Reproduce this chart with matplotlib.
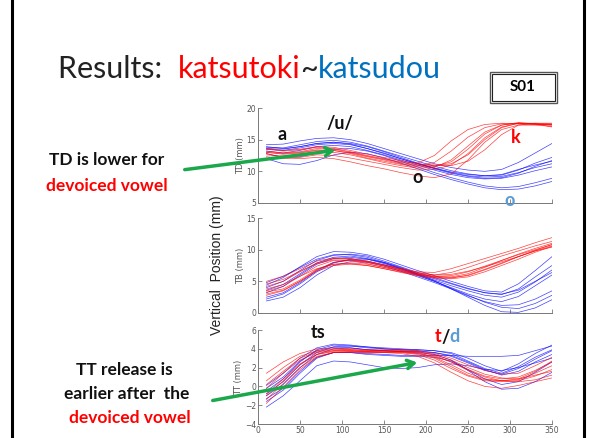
import matplotlib.pyplot as plt
from matplotlib.lines import Line2D
from matplotlib.patches import Rectangle, FancyArrowPatch

W, H = 592, 438

# sample positions (time, frames)
t = [10, 30, 50, 70, 90, 110, 130, 150, 170, 190, 210, 230, 250, 270, 290, 310, 330, 350]

# TD trajectories (mm)
td_red = [
    [13.5, 13.2, 13.4, 13.8, 13.6, 13.1, 12.5, 12.0, 11.5, 11.3, 12.5, 14.8, 16.6, 17.4, 17.6, 17.5, 17.4, 17.3],
    [13.0, 12.7, 12.9, 13.3, 13.3, 12.9, 12.3, 11.8, 11.2, 10.9, 11.4, 13.2, 15.4, 16.9, 17.5, 17.5, 17.4, 17.4],
    [12.6, 12.4, 12.6, 13.0, 13.0, 12.6, 12.0, 11.4, 10.9, 10.5, 10.6, 11.8, 14.0, 16.2, 17.3, 17.6, 17.5, 17.4],
    [13.2, 12.9, 13.1, 13.6, 13.5, 13.0, 12.4, 11.9, 11.4, 11.0, 10.9, 11.2, 12.6, 15.0, 16.9, 17.6, 17.6, 17.5],
    [12.3, 12.0, 12.2, 12.6, 12.5, 12.1, 11.6, 11.1, 10.6, 10.2, 10.3, 11.0, 12.8, 15.3, 17.0, 17.6, 17.5, 17.3],
    [13.6, 13.3, 13.5, 13.9, 13.8, 13.3, 12.7, 12.2, 11.7, 11.2, 11.0, 10.9, 11.6, 13.4, 15.8, 17.3, 17.6, 17.6],
    [12.8, 12.2, 12.0, 12.2, 12.0, 11.5, 10.9, 10.4, 9.8, 9.3, 9.0, 9.6, 11.8, 14.6, 16.6, 17.3, 17.3, 17.1],
    [13.0, 12.8, 13.0, 13.4, 13.3, 12.8, 12.1, 11.6, 11.1, 10.7, 10.8, 11.5, 13.5, 15.9, 17.3, 17.7, 17.5, 17.0],
]
td_blue = [
    [14.2, 14.3, 14.8, 15.2, 15.3, 15.0, 14.4, 13.6, 12.8, 12.0, 11.2, 10.6, 10.2, 10.0, 10.3, 11.4, 12.9, 14.4],
    [13.8, 13.7, 14.2, 14.7, 14.9, 14.6, 14.0, 13.2, 12.4, 11.6, 10.8, 10.1, 9.6, 9.3, 9.4, 10.2, 11.3, 12.2],
    [13.5, 13.3, 13.7, 14.2, 14.4, 14.2, 13.6, 12.9, 12.0, 11.2, 10.4, 9.7, 9.2, 8.9, 9.0, 9.7, 10.8, 11.7],
    [13.9, 13.6, 13.9, 14.4, 14.6, 14.4, 13.9, 13.1, 12.2, 11.3, 10.5, 9.8, 9.3, 9.1, 9.2, 9.8, 10.6, 11.2],
    [13.2, 12.9, 13.3, 13.9, 14.1, 13.9, 13.3, 12.6, 11.8, 11.0, 10.2, 9.5, 9.0, 8.8, 8.9, 9.4, 10.1, 10.7],
    [12.8, 12.2, 12.3, 12.9, 13.5, 13.6, 13.2, 12.5, 11.6, 10.7, 9.8, 9.0, 8.3, 7.7, 7.4, 7.6, 8.2, 8.9],
    [12.0, 11.2, 11.1, 11.7, 12.6, 13.0, 12.8, 12.1, 11.3, 10.4, 9.5, 8.7, 8.0, 7.4, 7.1, 7.2, 7.7, 8.4],
    [13.6, 13.5, 13.9, 14.4, 14.6, 14.3, 13.6, 12.8, 12.0, 11.2, 10.5, 9.9, 9.5, 9.3, 9.5, 10.3, 11.0, 11.6],
]

# TB trajectories (mm)
tb_red = [
    [5.0, 5.8, 7.0, 8.2, 8.7, 8.6, 8.2, 7.6, 7.0, 6.5, 6.4, 7.0, 7.8, 8.6, 9.4, 10.2, 11.1, 11.9],
    [4.2, 5.0, 6.5, 7.9, 8.6, 8.6, 8.1, 7.5, 6.9, 6.3, 6.0, 6.4, 7.2, 8.1, 9.0, 9.8, 10.6, 11.3],
    [3.5, 4.2, 5.8, 7.4, 8.3, 8.4, 8.0, 7.4, 6.8, 6.2, 5.8, 5.9, 6.5, 7.4, 8.3, 9.2, 10.0, 10.8],
    [3.0, 3.6, 5.0, 6.6, 7.5, 7.7, 7.5, 7.0, 6.4, 5.9, 5.5, 5.4, 5.7, 6.5, 7.5, 8.5, 9.6, 10.5],
    [3.8, 4.5, 5.8, 7.0, 7.7, 7.8, 7.5, 7.0, 6.5, 6.0, 5.6, 5.5, 6.0, 6.9, 7.9, 8.9, 9.8, 10.6],
    [2.8, 3.5, 5.0, 6.8, 8.0, 8.3, 8.1, 7.6, 7.0, 6.4, 6.0, 6.1, 6.6, 7.3, 8.1, 8.9, 9.8, 10.4],
    [4.6, 5.3, 6.6, 7.8, 8.4, 8.3, 7.8, 7.2, 6.6, 6.1, 5.8, 5.7, 6.2, 7.2, 8.3, 9.3, 10.2, 11.0],
    [3.3, 3.8, 5.2, 6.9, 7.7, 7.9, 7.7, 7.2, 6.7, 6.1, 5.7, 5.6, 5.9, 6.8, 7.8, 8.9, 9.9, 10.8],
]
tb_blue = [
    [4.4, 5.6, 7.3, 8.9, 9.7, 9.6, 9.2, 8.5, 7.6, 6.7, 5.9, 5.0, 4.2, 3.5, 3.3, 4.6, 6.7, 8.9],
    [4.0, 5.0, 6.7, 8.3, 9.1, 9.3, 9.0, 8.2, 7.3, 6.4, 5.6, 4.7, 3.9, 3.2, 2.9, 3.8, 5.7, 7.5],
    [3.2, 4.2, 6.0, 7.7, 8.6, 8.8, 8.5, 7.8, 7.0, 6.1, 5.2, 4.3, 3.5, 2.8, 2.5, 3.3, 4.9, 6.8],
    [2.5, 3.2, 4.8, 6.7, 8.0, 8.4, 8.2, 7.6, 6.8, 5.9, 5.0, 4.0, 3.0, 2.2, 1.8, 2.6, 4.3, 6.0],
    [1.9, 2.5, 4.0, 6.0, 7.5, 8.1, 8.0, 7.4, 6.6, 5.7, 4.8, 3.8, 2.7, 1.8, 1.2, 1.3, 2.2, 3.5],
    [3.6, 4.5, 6.2, 7.9, 8.8, 9.0, 8.6, 7.9, 7.0, 6.0, 5.0, 3.9, 2.8, 1.7, 0.9, 0.7, 1.5, 2.8],
    [2.2, 3.0, 4.6, 6.5, 7.9, 8.5, 8.5, 8.0, 7.2, 6.2, 5.1, 3.8, 2.5, 1.2, 0.2, 0.1, 0.8, 2.1],
    [4.8, 5.8, 7.2, 8.5, 9.2, 9.2, 8.8, 8.0, 7.1, 6.2, 5.4, 4.6, 3.8, 3.2, 3.0, 3.6, 5.0, 6.4],
]

# TT trajectories (mm)
tt_red = [
    [1.4, 2.6, 3.5, 4.0, 4.1, 4.0, 3.9, 3.9, 3.9, 3.8, 3.5, 3.0, 2.3, 1.7, 1.3, 1.4, 2.2, 3.1],
    [0.6, 2.0, 3.2, 3.8, 4.0, 3.9, 3.8, 3.8, 3.8, 3.7, 3.3, 2.6, 1.8, 1.1, 0.8, 1.0, 1.7, 2.6],
    [-0.2, 1.4, 2.8, 3.6, 3.8, 3.8, 3.7, 3.7, 3.7, 3.6, 3.1, 2.3, 1.4, 0.8, 0.6, 0.7, 1.4, 2.2],
    [-0.8, 0.8, 2.4, 3.4, 3.7, 3.7, 3.6, 3.6, 3.6, 3.4, 2.8, 1.9, 1.1, 0.6, 0.5, 0.6, 1.1, 1.8],
    [-1.4, 0.3, 2.0, 3.2, 3.6, 3.6, 3.6, 3.6, 3.5, 3.2, 2.5, 1.5, 0.6, 0.0, -0.2, 0.1, 0.5, 0.9],
    [0.2, 1.6, 3.0, 3.7, 3.9, 3.9, 3.8, 3.8, 3.8, 3.7, 3.4, 2.8, 2.0, 1.3, 0.9, 0.8, 1.2, 1.6],
    [-1.8, -0.1, 1.8, 3.1, 3.6, 3.7, 3.7, 3.7, 3.7, 3.5, 3.0, 2.1, 1.2, 0.7, 0.6, 0.8, 1.6, 2.7],
    [-1.0, 0.6, 2.3, 3.4, 3.8, 3.8, 3.7, 3.6, 3.6, 3.5, 3.2, 2.6, 1.7, 1.0, 0.6, 0.5, 0.7, 1.2],
]
tt_blue = [
    [0.1, 1.4, 3.0, 4.1, 4.5, 4.4, 4.2, 4.1, 4.0, 3.9, 3.8, 3.6, 3.0, 2.2, 1.6, 2.4, 3.5, 4.4],
    [-0.5, 0.8, 2.6, 3.9, 4.4, 4.3, 4.1, 4.0, 3.9, 3.9, 3.8, 3.5, 2.7, 1.9, 1.4, 2.1, 3.1, 3.9],
    [-1.0, 0.2, 2.0, 3.4, 4.0, 4.1, 3.9, 3.8, 3.7, 3.7, 3.6, 3.3, 2.6, 1.8, 1.2, 1.6, 2.6, 3.4],
    [-1.6, -0.4, 1.4, 3.0, 3.6, 3.6, 3.5, 3.4, 3.3, 3.3, 3.3, 3.3, 3.2, 3.2, 3.2, 3.3, 3.8, 4.3],
    [-2.2, -1.0, 0.6, 2.2, 2.7, 2.6, 2.3, 2.0, 1.9, 2.0, 2.3, 2.4, 2.2, 1.8, 1.7, 2.0, 2.5, 3.0],
    [-0.2, 1.0, 2.7, 3.8, 4.2, 4.1, 3.9, 3.8, 3.7, 3.6, 3.4, 2.8, 1.7, 0.5, -0.3, -0.2, 0.5, 1.5],
    [-1.3, -0.2, 1.6, 3.1, 3.6, 3.6, 3.4, 3.3, 3.2, 3.2, 3.1, 2.7, 1.8, 0.8, 0.2, 0.5, 1.5, 2.6],
    [-0.8, 0.5, 2.3, 3.6, 4.2, 4.3, 4.2, 4.0, 3.9, 3.8, 3.6, 3.2, 2.5, 1.7, 1.3, 1.9, 2.9, 3.8],
]

panels = [
    ("TD (mm)", td_red, td_blue, (5, 20), [5, 10, 15, 20]),
    ("TB (mm)", tb_red, tb_blue, (0, 15), [0, 5, 10, 15]),
    ("TT (mm)", tt_red, tt_blue, (-4, 6), [-4, -2, 0, 2, 4, 6]),
]
# axes boxes in pixels: (left, top, right, bottom)
boxes = [(258, 108, 552, 203), (258, 218, 552, 313), (258, 330, 552, 424)]


def fx(x):
    return x / W


def fy(y):
    return 1 - y / H


fig = plt.figure(figsize=(W / 100, H / 100), dpi=100)
fig.patch.set_facecolor('white')

for (lab, reds, blues, ylim, yt), (l, tp, r, b) in zip(panels, boxes):
    ax = fig.add_axes([fx(l), fy(b), (r - l) / W, (b - tp) / H])
    for c in blues:
        ax.plot(t, c, color='#0000ff', lw=0.5, alpha=0.75)
    for c in reds:
        ax.plot(t, c, color='#ff0000', lw=0.5, alpha=0.75)
    ax.set_xlim(0, 350)
    ax.set_ylim(*ylim)
    ax.set_yticks(yt)
    ax.set_xticks(range(0, 351, 50))
    for s in ['top', 'right']:
        ax.spines[s].set_visible(False)
    for s in ['left', 'bottom']:
        ax.spines[s].set_color('#777777')
        ax.spines[s].set_linewidth(0.7)
    ax.tick_params(direction='in', length=3, width=0.6, colors='#777777',
                   labelsize=5.5, labelcolor='#555555', pad=1.5)
    if lab != "TT (mm)":
        ax.set_xticklabels([])
    ax.set_ylabel(lab, fontsize=6, color='#555555', labelpad=1)

fig.text(fx(217), fy(265), "Vertical  Position (mm)", rotation=90, ha='center', va='center',
         fontsize=10, family='Liberation Sans', color='#222222')

# slide frame
fig.add_artist(Line2D([fx(12), fx(12)], [0, 1], color='black', lw=2.2))
fig.add_artist(Line2D([fx(584), fx(584)], [0, 1], color='black', lw=2.2))

# title
tfont = dict(fontsize=22, family='Lato', va='center')
t1 = fig.text(fx(58), fy(69), "Results:  ", color='#222222', **tfont)
fig.canvas.draw()
rend = fig.canvas.get_renderer()
x = t1.get_window_extent(rend).x1
for s, col in [("katsutoki", '#ff0000'), ("~", '#222222'), ("katsudou", '#0070c0')]:
    tx = fig.text(x / W, fy(69), s, color=col, **tfont)
    x = tx.get_window_extent(rend).x1

# S01 box
fig.add_artist(Rectangle((fx(490), fy(103)), 67 / W, 31 / H, fill=False, ec='#555555', lw=1.0))
fig.add_artist(Rectangle((fx(492), fy(101)), 63 / W, 27 / H, fill=False, ec='#222222', lw=0.8))
fig.text(fx(523), fy(87), "S01", ha='center', va='center', fontsize=11, weight='bold', family='Lato')

# left notes
nf = dict(ha='center', va='center', fontsize=12.5, weight='bold', family='Lato')
fig.text(fx(107), fy(160), "TD is lower for", color='#111111', **nf)
fig.text(fx(107), fy(186), "devoiced vowel", color='#ff0000', **nf)
fig.text(fx(124), fy(370), "TT release is", color='#111111', **nf)
fig.text(fx(127), fy(394), "earlier after  the", color='#111111', **nf)
fig.text(fx(130), fy(418), "devoiced vowel", color='#ff0000', **nf)

# green arrows
for (x0, y0), (x1, y1) in [((182, 170), (338, 150)), ((210, 401), (420, 362))]:
    fig.add_artist(FancyArrowPatch((fx(x0), fy(y0)), (fx(x1), fy(y1)), transform=fig.transFigure,
                                   arrowstyle='->,head_length=5,head_width=3', color='#1aa84b', lw=2.5))

# phone labels
pf = dict(ha='center', va='center', fontsize=13, weight='bold', family='Lato')
fig.text(fx(282), fy(134), "a", color='#111111', **pf)
fig.text(fx(340), fy(124), "/u/", color='#111111', **pf)
fig.text(fx(516), fy(138), "k", color='#ff0000', **pf)
fig.text(fx(418), fy(178), "o", color='#111111', **pf)
fig.text(fx(510), fy(200), "o", color='#5b9bd5', **pf)
fig.text(fx(318), fy(333), "ts", color='#111111', **pf)
fig.text(fx(438), fy(337), "t", color='#ff0000', **pf)
fig.text(fx(446), fy(337), "/", color='#111111', **pf)
fig.text(fx(455), fy(337), "d", color='#5b9bd5', **pf)

fig.savefig("out.png", dpi=100)
